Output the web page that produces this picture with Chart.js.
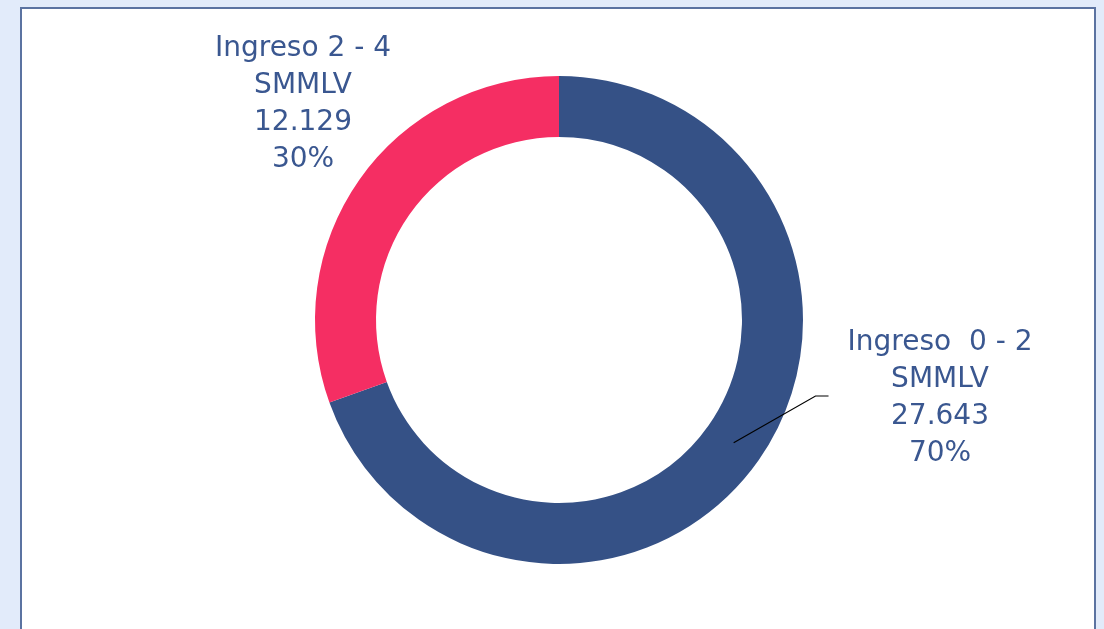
<!DOCTYPE html>
<html>
<head>
<meta charset="utf-8">
<script src="https://cdn.jsdelivr.net/npm/chart.js@4"></script>
<style>
  html, body { margin: 0; padding: 0; width: 1104px; height: 629px; overflow: hidden; background: #e2ebfa; }
  .panel { position: absolute; left: 20px; top: 7px; width: 1072px; height: 640px; background: #fff; border: 2px solid #5b73a1; }
  .wrap { position: absolute; left: 0; top: 0; width: 1104px; height: 629px; }
</style>
</head>
<body>
<div class="panel"></div>
<div class="wrap"><canvas id="donut"></canvas></div>
<script>
// Data
const categories = ['Ingreso  0 - 2\nSMMLV', 'Ingreso 2 - 4\nSMMLV'];
const values = [27643, 12129];
const valueLabels = ['27.643', '12.129'];
const percentLabels = ['70%', '30%'];
const colors = ['#355186', '#f52e63'];

// label placement relative to each arc (style only)
const labelStyle = [
  { dx: 381, dy: 76, leader: true },
  { dx: -256, dy: -218, leader: false }
];

const labelPlugin = {
  id: 'sliceLabels',
  afterDraw(chart) {
    const ctx = chart.ctx;
    const meta = chart.getDatasetMeta(0);
    ctx.save();
    ctx.font = '28px "DejaVu Sans", sans-serif';
    ctx.fillStyle = '#3a5790';
    ctx.textAlign = 'center';
    ctx.textBaseline = 'middle';
    const lh = 37;
    meta.data.forEach((arc, i) => {
      const p = arc.getProps(['x', 'y', 'startAngle', 'endAngle', 'innerRadius', 'outerRadius'], true);
      const lines = categories[i].split('\n').concat([valueLabels[i], percentLabels[i]]);
      const cx = p.x + labelStyle[i].dx;
      const cy = p.y + labelStyle[i].dy;
      const top = cy - lh * (lines.length - 1) / 2;
      lines.forEach((t, k) => ctx.fillText(t, cx, top + k * lh + 2));
      if (labelStyle[i].leader) {
        const mid = (p.startAngle + p.endAngle) / 2;
        const r = (p.innerRadius + p.outerRadius) / 2;
        const sx = p.x + Math.cos(mid) * r;
        const sy = p.y + Math.sin(mid) * r;
        let w = 0;
        lines.forEach(t => { w = Math.max(w, ctx.measureText(t).width); });
        const ex = cx - w / 2 - 19;
        ctx.strokeStyle = '#000';
        ctx.lineWidth = 1.2;
        ctx.beginPath();
        ctx.moveTo(sx, sy);
        ctx.lineTo(ex - 13, cy);
        ctx.lineTo(ex, cy);
        ctx.stroke();
      }
    });
    ctx.restore();
  }
};

new Chart(document.getElementById('donut'), {
  type: 'doughnut',
  data: {
    labels: categories,
    datasets: [{
      data: values,
      backgroundColor: colors,
      borderWidth: 0
    }]
  },
  options: {
    responsive: true,
    maintainAspectRatio: false,
    animation: false,
    cutout: '75%',
    layout: { padding: { top: 76, bottom: 65, left: 100, right: 86 } },
    plugins: {
      legend: { display: false },
      tooltip: { enabled: false }
    }
  },
  plugins: [labelPlugin]
});
</script>
</body>
</html>
